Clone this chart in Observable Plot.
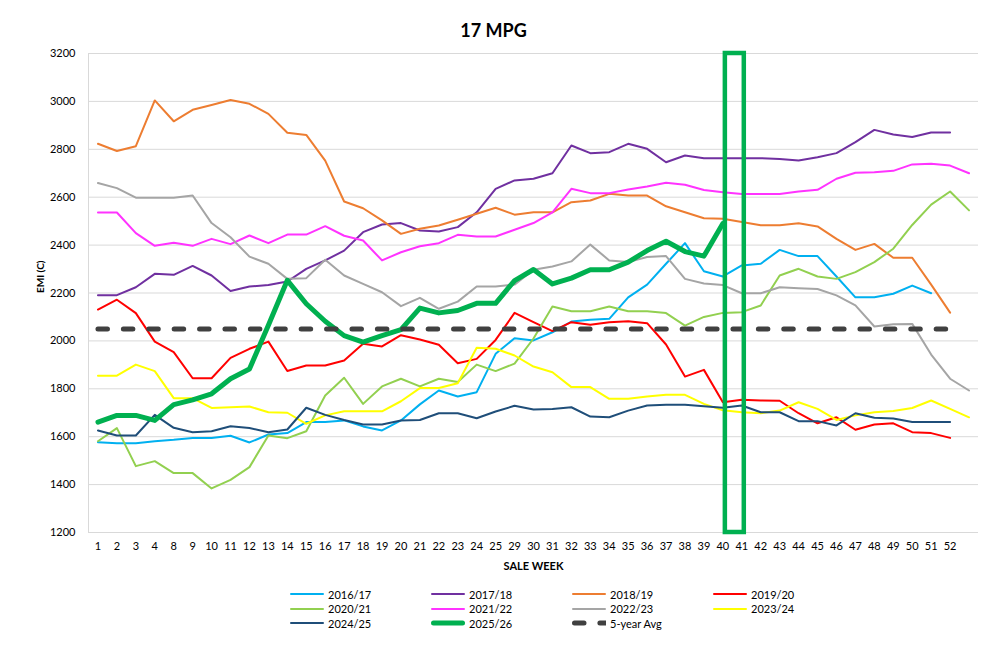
<!DOCTYPE html>
<html>
<head>
<meta charset="utf-8">
<script src="https://cdn.jsdelivr.net/npm/d3@7"></script>
<script src="https://cdn.jsdelivr.net/npm/@observablehq/plot@0.6"></script>
<style>
  body { margin: 0; background: #fff; font-family: Lato, "Open Sans", sans-serif; }
  #wrap { position: relative; width: 987px; height: 648px; overflow: hidden; }
  #title { position: absolute; top: 19px; left: 0; width: 987px; text-align: center; font: bold 18px Lato, sans-serif; line-height: 22px; color: #000; }
  #chart { position: absolute; top: 40px; left: 0; }
  #legend { position: absolute; top: 587px; left: 290px; display: grid; grid-template-columns: repeat(4, 141px); font: 11px Lato, sans-serif; color: #000; }
  .item { display: flex; align-items: center; height: 14.5px; }
  .item svg { margin-right: 4px; }
</style>
</head>
<body>
<div id="wrap">
  <div id="title">17 MPG</div>
  <div id="chart"></div>
  <div id="legend"></div>
</div>
<script>
const weeks = ["1","2","3","4","8","9","10","11","12","13","14","15","16","17","18","19","20","21","22","23","24","25","29","30","31","32","33","34","35","36","37","38","39","40","41","42","43","44","45","46","47","48","49","50","51","52","53"];
const yTicks = [1200,1400,1600,1800,2000,2200,2400,2600,2800,3000,3200];
const highlightWeeks = ["40","41"];

const s2016 = [1577,1573,1573,1581,1587,1595,1595,1604,1576,1609,1615,1661,1661,1668,1643,1626,1668,1735,1793,1768,1786,1946,2011,2002,2036,2081,2088,2092,2182,2235,2322,2408,2291,2269,2315,2322,2380,2354,2354,2269,2182,2182,2197,2231,2199,null,null];
const s2017 = [2191,2191,2224,2280,2276,2313,2273,2208,2227,2233,2248,2301,2336,2377,2454,2486,2492,2461,2457,2475,2537,2635,2670,2677,2700,2816,2784,2788,2823,2802,2746,2774,2763,2763,2763,2763,2760,2753,2767,2784,2830,2881,2862,2851,2870,2870,null];
const s2018 = [2823,2793,2813,3004,2917,2965,2985,3006,2990,2948,2869,2860,2753,2582,2554,2503,2447,2468,2482,2506,2531,2556,2527,2537,2537,2579,2586,2614,2607,2607,2562,2537,2512,2510,2496,2483,2483,2491,2478,2426,2380,2405,2347,2347,2235,2118,null];
const s2019 = [2131,2172,2116,1997,1953,1844,1844,1929,1967,1997,1874,1897,1897,1918,1988,1977,2024,2006,1984,1907,1925,2004,2117,2078,2041,2078,2067,2078,2082,2074,1985,1851,1879,1744,1754,1751,1750,1698,1656,1681,1629,1651,1656,1619,1615,1595,null];
const s2020 = [1581,1636,1477,1498,1448,1448,1384,1420,1473,1605,1594,1623,1772,1846,1737,1810,1842,1810,1842,1828,1901,1874,1905,2010,2144,2124,2124,2144,2124,2124,2116,2064,2100,2117,2120,2148,2273,2301,2269,2259,2287,2329,2385,2484,2569,2624,2545];
const s2021 = [2536,2536,2450,2397,2410,2397,2426,2404,2440,2408,2444,2444,2479,2439,2419,2336,2370,2395,2408,2443,2436,2436,2464,2492,2537,2635,2617,2617,2632,2645,2660,2652,2630,2621,2613,2613,2613,2624,2631,2677,2702,2704,2710,2737,2740,2732,2700];
const s2022 = [2659,2638,2598,2598,2598,2607,2492,2433,2352,2322,2259,2262,2339,2273,2238,2203,2145,2180,2134,2164,2227,2227,2235,2297,2311,2332,2402,2336,2329,2350,2354,2259,2240,2233,2199,2199,2224,2220,2217,2190,2148,2060,2070,2071,1943,1842,1793];
const s2023 = [1855,1855,1901,1874,1761,1761,1720,1723,1726,1702,1700,1654,1689,1706,1706,1706,1748,1803,1803,1823,1971,1967,1939,1893,1869,1807,1807,1758,1758,1768,1775,1775,1737,1710,1702,1698,1709,1744,1716,1670,1689,1702,1707,1720,1751,1716,1681];
const s2024 = [1626,1605,1605,1691,1637,1619,1623,1644,1636,1619,1630,1721,1691,1670,1651,1651,1668,1670,1698,1698,1677,1705,1729,1714,1716,1723,1684,1681,1709,1730,1733,1733,1727,1721,1730,1702,1702,1665,1665,1647,1698,1679,1676,1661,1661,1661,null];
const s2025 = [1661,1689,1689,1668,1734,1754,1779,1842,1883,2065,2253,2155,2082,2022,1995,2022,2047,2137,2117,2127,2157,2157,2252,2298,2238,2262,2297,2297,2329,2377,2416,2373,2354,2490,null,null,null,null,null,null,null,null,null,null,null,null,null];
const avg5 = [2050,2050,2050,2050,2050,2050,2050,2050,2050,2050,2050,2050,2050,2050,2050,2050,2050,2050,2050,2050,2050,2050,2050,2050,2050,2050,2050,2050,2050,2050,2050,2050,2050,2050,2050,2050,2050,2050,2050,2050,2050,2050,2050,2050,2050,2050,null];

const seriesNames = ["2016/17","2017/18","2018/19","2019/20","2020/21","2021/22","2022/23","2023/24","2024/25","2025/26","5-year Avg"];
const seriesValues = [s2016,s2017,s2018,s2019,s2020,s2021,s2022,s2023,s2024,s2025,avg5];

// styles, kept apart from the data
const colors = {"2016/17":"#00b0f0","2017/18":"#7030a0","2018/19":"#ed7d31","2019/20":"#ff0000","2020/21":"#92d050","2021/22":"#ff33ff","2022/23":"#a5a5a5","2023/24":"#ffff00","2024/25":"#1f4e79","2025/26":"#00b050","5-year Avg":"#404040"};
const widths = {"2025/26":5,"5-year Avg":5};
const dashes = {"5-year Avg":"9.5,15.9"};

const table = (name, vals) => weeks.map((w, i) => ({week: w, value: vals[i], series: name}));

const lineMarks = seriesNames.map((name, k) => Plot.line(table(name, seriesValues[k]), {
  x: "week", y: "value",
  stroke: colors[name],
  strokeWidth: widths[name] || 2,
  strokeDasharray: dashes[name],
  strokeLinecap: "round",
  strokeLinejoin: "round"
}));

const chart = Plot.plot({
  width: 987,
  height: 545,
  marginTop: 13,
  marginBottom: 53,
  marginLeft: 88,
  marginRight: 9,
  style: {fontFamily: "Lato, sans-serif", background: "transparent", color: "#000"},
  x: {type: "point", domain: weeks, padding: 0.5},
  y: {domain: [yTicks[0], yTicks[yTicks.length - 1]]},
  marks: [
    Plot.gridY(yTicks, {stroke: "#d9d9d9", strokeOpacity: 1, strokeWidth: 1}),
    Plot.frame({anchor: "left", stroke: "#d9d9d9", strokeWidth: 1}),
    Plot.axisY(yTicks, {tickSize: 0, tickPadding: 13, fontSize: 11, label: null, tickFormat: d => String(d)}),
    Plot.axisX({tickSize: 0, tickPadding: 10, fontSize: 11, label: null, tickFormat: d => d === "53" ? "" : d}),
    ...lineMarks,
    Plot.rect([{from: highlightWeeks[0], to: highlightWeeks[1]}], {
      x1: "from", x2: "to",
      y1: () => yTicks[0], y2: () => yTicks[yTicks.length - 1],
      dx: 2.5,
      fill: "none", stroke: "#00b050", strokeWidth: 4.5
    }),
    Plot.text(["SALE WEEK"], {text: d => d, frameAnchor: "bottom", dy: 37, fontWeight: "bold", fontSize: 11}),
    Plot.text(["EMI (C)"], {text: d => d, frameAnchor: "left", dx: -48, rotate: -90, fontWeight: "bold", fontSize: 10})
  ]
});
document.getElementById("chart").appendChild(chart);

// legend
const legend = document.getElementById("legend");
seriesNames.forEach(name => {
  const item = document.createElement("div");
  item.className = "item";
  const w = widths[name] || 2;
  const dash = dashes[name] ? ` stroke-dasharray="${dashes[name]}"` : "";
  item.innerHTML = `<svg width="34" height="8"><line x1="${w/2}" x2="${34 - (dashes[name] ? 0 : w/2)}" y1="4" y2="4" stroke="${colors[name]}" stroke-width="${w}" stroke-linecap="round"${dash}/></svg><span>${name}</span>`;
  legend.appendChild(item);
});
</script>
</body>
</html>
